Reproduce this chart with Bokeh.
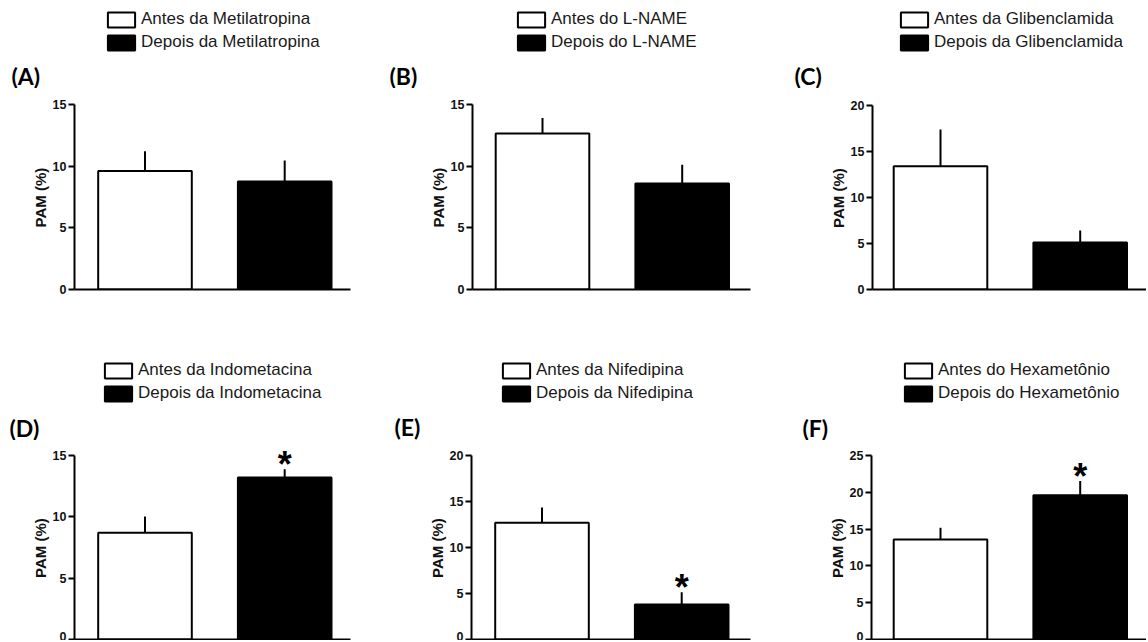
from bokeh.plotting import figure
from bokeh.models import Legend, LegendItem, FixedTicker, Range1d, Title, ColumnDataSource
from bokeh.layouts import row, column
from bokeh.embed import file_html
from bokeh.resources import INLINE
from bokeh.core.properties import value

# ---------------- data ----------------
panel_tags = ["(A)", "(B)", "(C)", "(D)", "(E)", "(F)"]
before_labels = ["Antes da Metilatropina", "Antes do L-NAME", "Antes da Glibenclamida",
                 "Antes da Indometacina", "Antes da Nifedipina", "Antes do Hexametônio"]
after_labels = ["Depois da Metilatropina", "Depois do L-NAME", "Depois da Glibenclamida",
                "Depois da Indometacina", "Depois da Nifedipina", "Depois do Hexametônio"]
before_mean = [9.6, 12.65, 13.4, 8.7, 12.7, 13.6]
before_sem = [1.6, 1.25, 4.0, 1.33, 1.66, 1.58]
after_mean = [8.75, 8.6, 5.1, 13.2, 3.8, 19.6]
after_sem = [1.7, 1.52, 1.3, 0.68, 1.34, 1.93]
y_max = [15, 15, 20, 15, 20, 25]
y_step = 5
significant = [False, False, False, True, True, True]
y_label = "PAM (%)"

# ---------------- layout (page pixels) ----------------
FIG_X = [0, 380, 760]
FIG_W = [380, 380, 386]
ROW_Y = [0, 320]
HDR_H = [88, 120]        # header (legend + tag) height per row
ROW_H = [320, 320]
axis_x = [74, 472, 872, 74, 471, 871]
axis_end = [350, 750, 1146, 350, 750, 1146]
white_c = [144.5, 542, 940, 144.5, 541.5, 940]
bar_pitch = 139.7
bar_width = 0.67
axis_top = [104, 104, 105, 455, 455, 455]
axis_zero = [289, 289, 289, 639, 639, 639]
legend_box_x = [107, 517, 900, 104, 502, 904]
legend_row1 = [19.5, 19.5, 19.5, 370, 370, 370]
tag_x = [11, 389, 794, 9, 394, 802]
tag_y = [75, 75, 75, 427, 426, 427]
YLABEL_LEN = 61          # approx. length of the rotated y label, px

GW, GH = 34, 19   # legend glyph area (rect drawn at 80%)
ROWH, SPACING = 20, 3
NAN = float("nan")


def clean(p):
    p.xgrid.grid_line_color = None
    p.ygrid.grid_line_color = None
    p.outline_line_color = None
    p.background_fill_color = "white"
    p.border_fill_color = "white"
    p.frame_align = False


panels = []
for i in range(6):
    r, c = divmod(i, 3)
    fx, fy, W = FIG_X[c], ROW_Y[r], FIG_W[c]
    hh = HDR_H[r]
    mh = ROW_H[r] - hh
    my = fy + hh

    # ---------- header: legend + panel tag ----------
    h = figure(width=W, height=hh, x_range=Range1d(0, W), y_range=Range1d(hh, 0),
               output_backend="svg", toolbar_location=None, title=None,
               x_axis_location=None, y_axis_location=None,
               min_border_left=0, min_border_right=0,
               min_border_top=0, min_border_bottom=0)
    clean(h)
    proxy = ColumnDataSource(dict(x=[NAN], top=[NAN]))
    hb = h.vbar(x="x", top="top", source=proxy, width=1,
                fill_color="white", line_color="black", line_width=2)
    ha = h.vbar(x="x", top="top", source=proxy, width=1,
                fill_color="black", line_color="black", line_width=2)
    leg_top = legend_row1[i] - ROWH / 2 - fy
    leg_h = 2 * ROWH + SPACING
    lx = round(legend_box_x[i] - 0.1 * GW - fx)
    ly = round(hh - leg_top - leg_h)
    legend = Legend(items=[LegendItem(label=before_labels[i], renderers=[hb]),
                           LegendItem(label=after_labels[i], renderers=[ha])],
                    location=(lx, ly), padding=0, margin=0, spacing=SPACING,
                    glyph_width=GW, glyph_height=GH, label_height=ROWH,
                    label_standoff=3, label_text_font="Liberation Sans",
                    label_text_font_size="17px", label_text_color="#1a1a1a",
                    background_fill_alpha=0, border_line_color=None)
    h.add_layout(legend)
    h.text(x=[tag_x[i] - fx], y=[tag_y[i] - fy], text=[panel_tags[i]],
           text_font=value("Lato"), text_font_style="bold", text_font_size="23px",
           text_align="left", text_baseline="middle", text_color="black")

    # ---------- main bar chart ----------
    L = axis_x[i] - fx
    R = fx + W - axis_end[i]
    B = my + mh - axis_zero[i]
    x_start = 1 - (white_c[i] - axis_x[i]) / bar_pitch
    x_end = 1 + (axis_end[i] - white_c[i]) / bar_pitch
    axis_px = axis_zero[i] - axis_top[i]
    y_end = y_max[i] * (axis_zero[i] - my) / axis_px

    p = figure(width=W, height=mh, x_range=Range1d(x_start, x_end),
               y_range=Range1d(0, y_end), output_backend="svg",
               toolbar_location=None, title=None,
               min_border_left=L, min_border_right=R,
               min_border_top=0, min_border_bottom=B)
    clean(p)

    p.vbar(x=[1], top=[before_mean[i]], width=bar_width, bottom=0,
           fill_color="white", line_color="black", line_width=2)
    p.vbar(x=[2], top=[after_mean[i]], width=bar_width, bottom=0,
           fill_color="black", line_color="black", line_width=2)
    p.segment(x0=[1, 2], y0=[before_mean[i], after_mean[i]],
              x1=[1, 2], y1=[before_mean[i] + before_sem[i], after_mean[i] + after_sem[i]],
              line_color="black", line_width=2)
    if significant[i]:
        p.text(x=[2], y=[after_mean[i] + after_sem[i]], text=["*"],
               text_font=value("Liberation Sans"), text_font_style="bold",
               text_font_size="36px", text_align="center",
               text_baseline="alphabetic", y_offset=-5, text_color="black")

    xa = p.xaxis[0]
    xa.ticker = FixedTicker(ticks=[])
    xa.major_label_text_font_size = "0px"
    xa.major_tick_out = 0
    xa.major_tick_in = 0
    xa.minor_tick_out = 0
    xa.minor_tick_in = 0
    xa.axis_line_width = 2
    xa.axis_line_color = "black"
    xa.major_label_standoff = 0

    ya = p.yaxis[0]
    ya.ticker = FixedTicker(ticks=list(range(0, y_max[i] + 1, y_step)))
    ya.bounds = (0, y_max[i])
    ya.major_label_text_font = "Liberation Sans"
    ya.major_label_text_font_style = "bold"
    ya.major_label_text_font_size = "12.5px"
    ya.major_label_text_color = "#111111"
    ya.major_label_standoff = 2
    ya.major_tick_out = 6
    ya.major_tick_in = 0
    ya.major_tick_line_width = 2
    ya.minor_tick_out = 0
    ya.minor_tick_in = 0
    ya.axis_line_width = 2
    ya.axis_line_color = "black"

    # y-axis label, centred on the 0..max span of the axis
    ylab = Title(text=y_label, align="left", offset=axis_px / 2 - YLABEL_LEN / 2,
                 text_font="Liberation Sans", text_font_style="bold",
                 text_font_size="15px", text_color="#111111")
    try:
        ylab.standoff = 2
    except Exception:
        pass
    p.add_layout(ylab, "left")

    panels.append(column(h, p))

layout = column(row(*panels[:3]), row(*panels[3:]))
open("out.html", "w").write(file_html(layout, INLINE))
